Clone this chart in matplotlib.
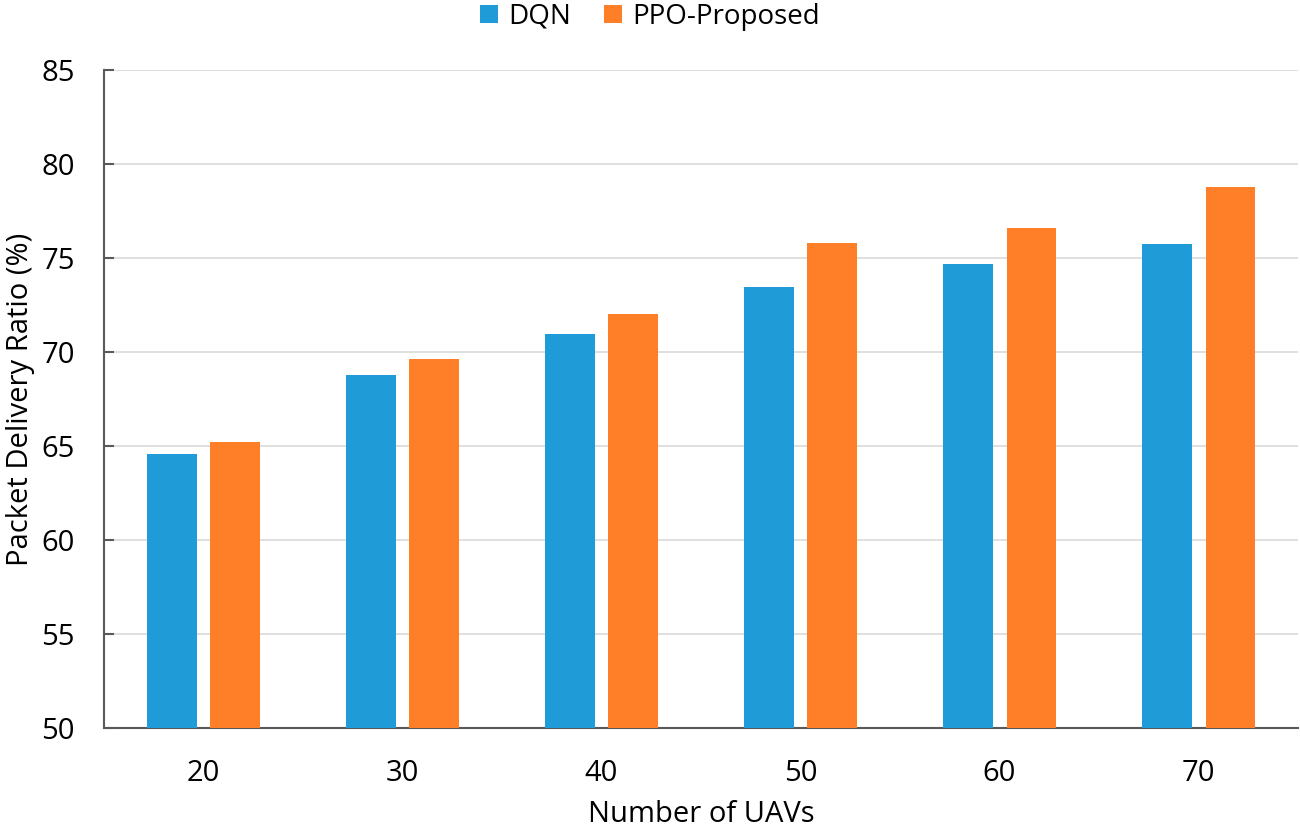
import matplotlib
matplotlib.use("Agg")
import matplotlib.pyplot as plt
import numpy as np

categories = ["20", "30", "40", "50", "60", "70"]
dqn = [64.55, 68.8, 70.95, 73.45, 74.7, 75.75]
ppo = [65.2, 69.65, 72.0, 75.8, 76.6, 78.8]
series_names = ["DQN", "PPO-Proposed"]
yticks = [50, 55, 60, 65, 70, 75, 80, 85]

plt.rcParams['font.family'] = ['Open Sans', 'DejaVu Sans']

fig = plt.figure(figsize=(13, 8.3), dpi=100)
ax = fig.add_axes([0.08, 0.1229, 0.9185, 0.7928])

x = np.arange(len(categories))
w = 0.25
off = 0.16
ax.bar(x - off, dqn, w, color="#1f9bd7", label=series_names[0], zorder=3)
ax.bar(x + off, ppo, w, color="#fe7f27", label=series_names[1], zorder=3)

ax.set_xlim(-0.5, len(categories) - 0.5)
ax.set_ylim(50, 85)
ax.set_yticks(yticks)
ax.set_xticks(x)
ax.set_xticklabels(categories)
ax.grid(axis='y', color="#d9d9d9", linewidth=1.2, zorder=0)
for s in ["top", "right"]:
    ax.spines[s].set_visible(False)
for s in ["left", "bottom"]:
    ax.spines[s].set_color("#595959")
    ax.spines[s].set_linewidth(1.5)
ax.tick_params(axis='y', direction='in', length=7, width=1.5, color="#595959",
               labelsize=21, pad=21)
ax.tick_params(axis='x', length=0, labelsize=21, pad=22)
ax.set_xlabel("Number of UAVs", fontsize=21)
ax.set_ylabel("Packet Delivery Ratio (%)", fontsize=21)
ax.xaxis.set_label_coords(0.5, -0.11)
ax.yaxis.set_label_coords(-0.058, 0.5)

fig.legend(loc="upper center", bbox_to_anchor=(0.5, 1.0), ncol=2, frameon=False,
           fontsize=20, handlelength=0.65, handleheight=0.65, columnspacing=1.2,
           handletextpad=0.35, borderaxespad=0.0, borderpad=0.1)

fig.savefig("out.png", dpi=100)
